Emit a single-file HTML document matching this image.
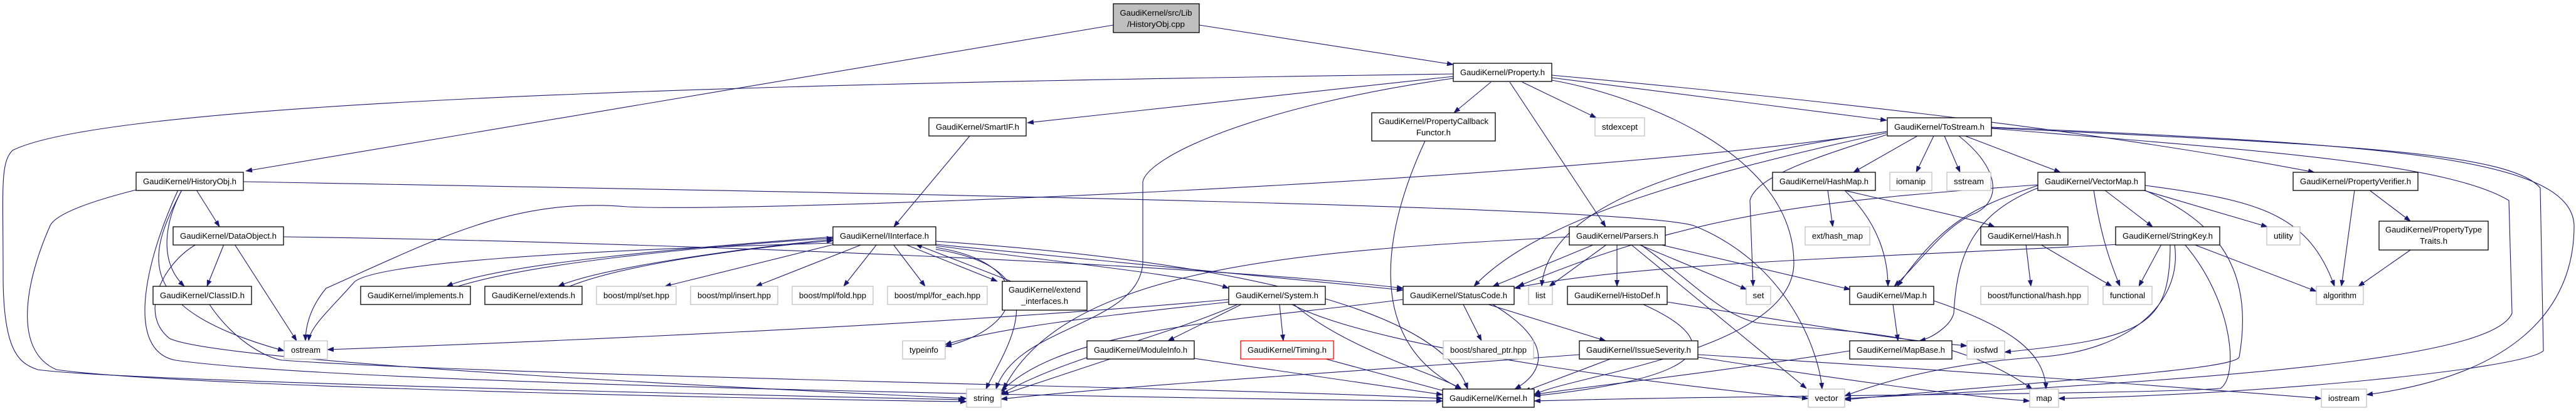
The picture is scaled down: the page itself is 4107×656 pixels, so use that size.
<!DOCTYPE html>
<html><head><meta charset="utf-8"><style>
html,body{margin:0;padding:0;background:#fff;}
svg{display:block;}
text{font-family:"Liberation Sans",sans-serif;font-size:13px;fill:#000;}
.n{fill:#fff;stroke:#000;stroke-width:1.3;}
.x{fill:#fff;stroke:#bfbfbf;stroke-width:1.3;}
.r{fill:#fff;stroke:#ff0000;stroke-width:1.3;}
.e{fill:none;stroke:#191970;stroke-width:1.1;marker-end:url(#a);}
</style></head><body>
<svg width="4107" height="656" viewBox="0 0 4107 656" xmlns="http://www.w3.org/2000/svg">
<defs><marker id="a" markerUnits="userSpaceOnUse" markerWidth="11" markerHeight="8" refX="10" refY="4" orient="auto"><path d="M0,0 L11,4 L0,8 z" fill="#191970"/></marker></defs>
<g>
<path class="e" d="M1775,40 L392,273"/>
<path class="e" d="M1912,40 L2317,103"/>
<path class="e" d="M2317,118 C1500,130 200,150 20,240 C0,260 5,300 5,440 C5,560 30,580 60,590 C200,610 1400,635 1538,638"/>
<path class="e" d="M2317,122 L1638,196"/>
<path class="e" d="M2317,125 C2000,170 1830,250 1822,290 L1822,420 C1815,520 1620,520 1588,621"/>
<path class="e" d="M2377,131 L2318,180"/>
<path class="e" d="M2407,131 L2560,362"/>
<path class="e" d="M2427,131 L2545,188"/>
<path class="e" d="M2474,124 L3008,192"/>
<path class="e" d="M2474,120 C2800,150 3300,200 3690,275"/>
<path class="e" d="M2474,128 C2600,150 2860,240 2860,420 C2860,560 2500,600 2446,630"/>
<path class="e" d="M2272,225 C2200,380 2180,550 2330,621"/>
<path class="e" d="M1546,217 L1425,362"/>
<path class="e" d="M313,303 L350,362"/>
<path class="e" d="M290,303 C260,360 255,420 294,457"/>
<path class="e" d="M290,303 C240,400 200,490 453,560"/>
<path class="e" d="M217,303 C150,320 90,340 80,360 C40,450 20,560 90,590 C300,620 1400,640 1541,641"/>
<path class="e" d="M388,290 C1500,310 2600,330 2700,360 C2850,420 2900,560 2905,621"/>
<path class="e" d="M284,303 C230,420 200,560 280,575 C600,620 2200,640 2300,640"/>
<path class="e" d="M357,390 L330,457"/>
<path class="e" d="M374,390 L473,544"/>
<path class="e" d="M313,390 C260,420 220,500 270,540 C350,580 1300,625 1541,636"/>
<path class="e" d="M452,378 C1000,385 1900,420 2237,460"/>
<path class="e" d="M334,486 C370,540 420,570 450,575 C800,600 2000,620 2300,636"/>
<path class="e" d="M1328,378 C1100,395 800,420 712,457"/>
<path class="e" d="M730,457 C850,420 1100,395 1328,380"/>
<path class="e" d="M1328,382 C1150,400 950,430 890,457"/>
<path class="e" d="M908,457 C1000,420 1200,395 1328,384"/>
<path class="e" d="M1330,390 L1060,457"/>
<path class="e" d="M1375,390 L1205,457"/>
<path class="e" d="M1398,390 L1345,457"/>
<path class="e" d="M1424,390 L1475,457"/>
<path class="e" d="M1443,390 L1590,449"/>
<path class="e" d="M1612,449 L1460,390"/>
<path class="e" d="M3008,210 C2500,290 1200,340 1000,330 C820,315 700,380 520,460 C495,490 487,520 487,544"/>
<path class="e" d="M1328,388 C900,400 600,420 565,450 C530,490 495,520 492,544"/>
<path class="e" d="M1959,478 C1500,520 800,548 522,558"/>
<path class="e" d="M1492,398 C1700,430 1600,560 1572,621"/>
<path class="e" d="M1492,395 C1650,420 1640,520 1507,553"/>
<path class="e" d="M1492,390 L2237,463"/>
<path class="e" d="M1492,392 C1700,420 1900,440 1959,460"/>
<path class="e" d="M1492,385 C2000,420 2300,500 2340,621"/>
<path class="e" d="M1979,486 L1862,544"/>
<path class="e" d="M2040,486 L2046,544"/>
<path class="e" d="M2063,486 C2150,560 2300,600 2330,621"/>
<path class="e" d="M2060,486 C2200,560 2700,620 2883,636"/>
<path class="e" d="M1973,486 C1850,540 1700,570 1594,630"/>
<path class="e" d="M1959,482 C1800,500 1600,520 1507,550"/>
<path class="e" d="M1773,572 L1598,630"/>
<path class="e" d="M1904,572 L2300,630"/>
<path class="e" d="M2110,572 L2310,626"/>
<path class="e" d="M2333,486 L2362,544"/>
<path class="e" d="M2373,486 L2560,544"/>
<path class="e" d="M2380,486 C2470,540 2470,590 2415,621"/>
<path class="e" d="M2237,478 C2000,510 1700,520 1596,625"/>
<path class="e" d="M2570,572 L2430,625"/>
<path class="e" d="M2518,566 C2200,590 1800,615 1596,637"/>
<path class="e" d="M2707,570 C2900,600 3100,630 3236,640"/>
<path class="e" d="M2707,566 C3100,590 3500,620 3701,636"/>
<path class="e" d="M2542,390 L2380,457"/>
<path class="e" d="M2562,390 L2470,457"/>
<path class="e" d="M2578,390 L2578,457"/>
<path class="e" d="M2612,390 L2785,462"/>
<path class="e" d="M2645,390 L2950,462"/>
<path class="e" d="M2600,390 L2880,620"/>
<path class="e" d="M2615,390 C2700,450 2740,500 2800,515 C2900,530 3100,520 3240,621"/>
<path class="e" d="M2502,378 C2100,400 1700,420 1600,621"/>
<path class="e" d="M2620,486 C2740,540 2750,600 2446,632"/>
<path class="e" d="M2658,482 C2900,520 3000,540 3136,552"/>
<path class="e" d="M3057,217 L2955,275"/>
<path class="e" d="M3083,217 L3055,275"/>
<path class="e" d="M3100,217 L3125,275"/>
<path class="e" d="M3133,217 L3285,275"/>
<path class="e" d="M3123,217 C3190,270 3190,320 3150,340 C3100,360 3060,420 3020,457"/>
<path class="e" d="M3008,215 C2900,250 2800,280 2790,320 L2795,457"/>
<path class="e" d="M3008,210 C2800,240 2470,300 2458,457"/>
<path class="e" d="M3008,212 C2700,280 2450,350 2350,457"/>
<path class="e" d="M3175,205 C3600,240 3900,260 4000,320 L4005,500 C3980,560 3700,600 2941,636"/>
<path class="e" d="M3175,204 C3700,230 4000,240 4050,300 L4055,560 C4020,590 3600,630 3282,636"/>
<path class="e" d="M3175,203 C3800,230 4100,250 4104,360 C4104,500 4000,600 3773,630"/>
<path class="e" d="M2914,303 L2922,362"/>
<path class="e" d="M2937,303 C3050,330 3150,350 3180,362"/>
<path class="e" d="M2940,303 C3000,360 3010,420 3010,457"/>
<path class="e" d="M3249,295 C2900,320 2700,340 2420,457"/>
<path class="e" d="M3249,300 C3150,340 3120,400 3115,500 C3110,520 3080,540 3060,544"/>
<path class="e" d="M3249,296 C3150,330 3100,350 3025,457"/>
<path class="e" d="M3355,303 L3432,362"/>
<path class="e" d="M3338,303 C3350,380 3365,420 3380,457"/>
<path class="e" d="M3415,303 L3615,362"/>
<path class="e" d="M3420,296 C3600,320 3680,340 3722,457"/>
<path class="e" d="M3418,303 C3500,340 3600,400 3570,570 C3560,590 3300,605 2941,638"/>
<path class="e" d="M3230,390 L3238,457"/>
<path class="e" d="M3253,390 L3367,457"/>
<path class="e" d="M3446,390 L3410,457"/>
<path class="e" d="M3497,390 L3693,465"/>
<path class="e" d="M3460,390 C3460,520 3420,540 3196,562"/>
<path class="e" d="M3467,390 C3480,480 3400,560 3250,570 C3100,580 3000,610 2941,632"/>
<path class="e" d="M3483,390 C3560,480 3570,600 3540,620 C3400,630 2800,630 2446,640"/>
<path class="e" d="M3380,390 C3000,410 2600,420 2414,460"/>
<path class="e" d="M3018,486 L3026,544"/>
<path class="e" d="M3083,480 C3200,520 3260,560 3262,621"/>
<path class="e" d="M2949,560 C2700,600 2500,620 2446,630"/>
<path class="e" d="M3754,303 L3733,457"/>
<path class="e" d="M3777,303 L3843,353"/>
<path class="e" d="M3843,399 L3760,457"/>
</g>
<g>
<rect x="1775" y="6" width="137" height="46" fill="#bfbfbf" stroke="#000" stroke-width="1.3"/>
<text x="1843" y="25" text-anchor="middle" textLength="115" lengthAdjust="spacingAndGlyphs">GaudiKernel/src/Lib</text>
<text x="1843" y="43" text-anchor="middle" textLength="92" lengthAdjust="spacingAndGlyphs">/HistoryObj.cpp</text>

<rect class="n" x="2317" y="101" width="157" height="29"/><text x="2395.5" y="120" text-anchor="middle" textLength="135" lengthAdjust="spacingAndGlyphs">GaudiKernel/Property.h</text>

<rect class="n" x="1481" y="188" width="155" height="29"/><text x="1558.5" y="207" text-anchor="middle" textLength="133" lengthAdjust="spacingAndGlyphs">GaudiKernel/SmartIF.h</text>
<rect class="n" x="2187" y="180" width="197" height="45"/><text x="2285.5" y="198" text-anchor="middle" textLength="175" lengthAdjust="spacingAndGlyphs">GaudiKernel/PropertyCallback</text><text x="2285.5" y="216" text-anchor="middle" textLength="55" lengthAdjust="spacingAndGlyphs">Functor.h</text>
<rect class="x" x="2543" y="188" width="79" height="29"/><text x="2582.5" y="207" text-anchor="middle" textLength="57" lengthAdjust="spacingAndGlyphs">stdexcept</text>
<rect class="n" x="3009" y="188" width="166" height="29"/><text x="3092" y="207" text-anchor="middle" textLength="144" lengthAdjust="spacingAndGlyphs">GaudiKernel/ToStream.h</text>

<rect class="n" x="217" y="275" width="171" height="29"/><text x="302.5" y="294" text-anchor="middle" textLength="149" lengthAdjust="spacingAndGlyphs">GaudiKernel/HistoryObj.h</text>
<rect class="n" x="2826" y="275" width="164" height="29"/><text x="2908" y="294" text-anchor="middle" textLength="142" lengthAdjust="spacingAndGlyphs">GaudiKernel/HashMap.h</text>
<rect class="x" x="3013" y="275" width="67" height="29"/><text x="3046.5" y="294" text-anchor="middle" textLength="47" lengthAdjust="spacingAndGlyphs">iomanip</text>
<rect class="x" x="3104" y="275" width="70" height="29"/><text x="3139" y="294" text-anchor="middle" textLength="48" lengthAdjust="spacingAndGlyphs">sstream</text>
<rect class="n" x="3249" y="275" width="171" height="29"/><text x="3334.5" y="294" text-anchor="middle" textLength="149" lengthAdjust="spacingAndGlyphs">GaudiKernel/VectorMap.h</text>
<rect class="n" x="3656" y="275" width="199" height="29"/><text x="3755.5" y="294" text-anchor="middle" textLength="177" lengthAdjust="spacingAndGlyphs">GaudiKernel/PropertyVerifier.h</text>

<rect class="n" x="276" y="362" width="176" height="29"/><text x="364" y="381" text-anchor="middle" textLength="154" lengthAdjust="spacingAndGlyphs">GaudiKernel/DataObject.h</text>
<rect class="n" x="1328" y="362" width="164" height="29"/><text x="1410" y="381" text-anchor="middle" textLength="142" lengthAdjust="spacingAndGlyphs">GaudiKernel/IInterface.h</text>
<rect class="n" x="2502" y="362" width="153" height="29"/><text x="2578.5" y="381" text-anchor="middle" textLength="131" lengthAdjust="spacingAndGlyphs">GaudiKernel/Parsers.h</text>
<rect class="x" x="2878" y="362" width="103" height="29"/><text x="2929.5" y="381" text-anchor="middle" textLength="81" lengthAdjust="spacingAndGlyphs">ext/hash_map</text>
<rect class="n" x="3158" y="362" width="139" height="29"/><text x="3227.5" y="381" text-anchor="middle" textLength="117" lengthAdjust="spacingAndGlyphs">GaudiKernel/Hash.h</text>
<rect class="n" x="3373" y="362" width="166" height="29"/><text x="3456" y="381" text-anchor="middle" textLength="144" lengthAdjust="spacingAndGlyphs">GaudiKernel/StringKey.h</text>
<rect class="x" x="3614" y="362" width="53" height="29"/><text x="3640.5" y="381" text-anchor="middle" textLength="31" lengthAdjust="spacingAndGlyphs">utility</text>
<rect class="n" x="3793" y="353" width="174" height="46"/><text x="3880" y="371" text-anchor="middle" textLength="154" lengthAdjust="spacingAndGlyphs">GaudiKernel/PropertyType</text><text x="3880" y="389" text-anchor="middle" textLength="44" lengthAdjust="spacingAndGlyphs">Traits.h</text>

<rect class="n" x="244" y="457" width="157" height="29"/><text x="322.5" y="476" text-anchor="middle" textLength="135" lengthAdjust="spacingAndGlyphs">GaudiKernel/ClassID.h</text>
<rect class="n" x="575" y="457" width="175" height="29"/><text x="662.5" y="476" text-anchor="middle" textLength="153" lengthAdjust="spacingAndGlyphs">GaudiKernel/implements.h</text>
<rect class="n" x="773" y="457" width="155" height="29"/><text x="850.5" y="476" text-anchor="middle" textLength="133" lengthAdjust="spacingAndGlyphs">GaudiKernel/extends.h</text>
<rect class="x" x="951" y="457" width="127" height="29"/><text x="1014.5" y="476" text-anchor="middle" textLength="105" lengthAdjust="spacingAndGlyphs">boost/mpl/set.hpp</text>
<rect class="x" x="1101" y="457" width="139" height="29"/><text x="1170.5" y="476" text-anchor="middle" textLength="117" lengthAdjust="spacingAndGlyphs">boost/mpl/insert.hpp</text>
<rect class="x" x="1263" y="457" width="129" height="29"/><text x="1327.5" y="476" text-anchor="middle" textLength="107" lengthAdjust="spacingAndGlyphs">boost/mpl/fold.hpp</text>
<rect class="x" x="1415" y="457" width="159" height="29"/><text x="1494.5" y="476" text-anchor="middle" textLength="137" lengthAdjust="spacingAndGlyphs">boost/mpl/for_each.hpp</text>
<rect class="n" x="1598" y="449" width="135" height="46"/><text x="1665.5" y="467" text-anchor="middle" textLength="115" lengthAdjust="spacingAndGlyphs">GaudiKernel/extend</text><text x="1665.5" y="485" text-anchor="middle" textLength="75" lengthAdjust="spacingAndGlyphs">_interfaces.h</text>
<rect class="n" x="1959" y="457" width="154" height="29"/><text x="2036" y="476" text-anchor="middle" textLength="132" lengthAdjust="spacingAndGlyphs">GaudiKernel/System.h</text>
<rect class="n" x="2237" y="457" width="177" height="29"/><text x="2325.5" y="476" text-anchor="middle" textLength="155" lengthAdjust="spacingAndGlyphs">GaudiKernel/StatusCode.h</text>
<rect class="x" x="2437" y="457" width="38" height="29"/><text x="2456" y="476" text-anchor="middle" textLength="16" lengthAdjust="spacingAndGlyphs">list</text>
<rect class="n" x="2499" y="457" width="159" height="29"/><text x="2578.5" y="476" text-anchor="middle" textLength="137" lengthAdjust="spacingAndGlyphs">GaudiKernel/HistoDef.h</text>
<rect class="x" x="2784" y="457" width="39" height="29"/><text x="2803.5" y="476" text-anchor="middle" textLength="18" lengthAdjust="spacingAndGlyphs">set</text>
<rect class="n" x="2949" y="457" width="134" height="29"/><text x="3016" y="476" text-anchor="middle" textLength="112" lengthAdjust="spacingAndGlyphs">GaudiKernel/Map.h</text>
<rect class="x" x="3158" y="457" width="171" height="29"/><text x="3243.5" y="476" text-anchor="middle" textLength="149" lengthAdjust="spacingAndGlyphs">boost/functional/hash.hpp</text>
<rect class="x" x="3353" y="457" width="78" height="29"/><text x="3392" y="476" text-anchor="middle" textLength="56" lengthAdjust="spacingAndGlyphs">functional</text>
<rect class="x" x="3693" y="457" width="75" height="29"/><text x="3730.5" y="476" text-anchor="middle" textLength="53" lengthAdjust="spacingAndGlyphs">algorithm</text>

<rect class="x" x="453" y="544" width="69" height="29"/><text x="487.5" y="563" text-anchor="middle" textLength="47" lengthAdjust="spacingAndGlyphs">ostream</text>
<rect class="x" x="1439" y="544" width="68" height="29"/><text x="1473" y="563" text-anchor="middle" textLength="46" lengthAdjust="spacingAndGlyphs">typeinfo</text>
<rect class="n" x="1733" y="544" width="171" height="29"/><text x="1818.5" y="563" text-anchor="middle" textLength="149" lengthAdjust="spacingAndGlyphs">GaudiKernel/ModuleInfo.h</text>
<rect class="r" x="1978" y="544" width="148" height="29"/><text x="2052" y="563" text-anchor="middle" textLength="126" lengthAdjust="spacingAndGlyphs">GaudiKernel/Timing.h</text>
<rect class="x" x="2301" y="544" width="144" height="29"/><text x="2373" y="563" text-anchor="middle" textLength="122" lengthAdjust="spacingAndGlyphs">boost/shared_ptr.hpp</text>
<rect class="n" x="2518" y="544" width="189" height="29"/><text x="2612.5" y="563" text-anchor="middle" textLength="167" lengthAdjust="spacingAndGlyphs">GaudiKernel/IssueSeverity.h</text>
<rect class="n" x="2949" y="544" width="163" height="29"/><text x="3030.5" y="563" text-anchor="middle" textLength="141" lengthAdjust="spacingAndGlyphs">GaudiKernel/MapBase.h</text>
<rect class="x" x="3136" y="544" width="60" height="29"/><text x="3166" y="563" text-anchor="middle" textLength="39" lengthAdjust="spacingAndGlyphs">iosfwd</text>

<rect class="x" x="1541" y="621" width="55" height="29"/><text x="1568.5" y="640" text-anchor="middle" textLength="33" lengthAdjust="spacingAndGlyphs">string</text>
<rect class="n" x="2300" y="621" width="146" height="29"/><text x="2373" y="640" text-anchor="middle" textLength="124" lengthAdjust="spacingAndGlyphs">GaudiKernel/Kernel.h</text>
<rect class="x" x="2883" y="621" width="58" height="29"/><text x="2912" y="640" text-anchor="middle" textLength="37" lengthAdjust="spacingAndGlyphs">vector</text>
<rect class="x" x="3236" y="621" width="46" height="29"/><text x="3259" y="640" text-anchor="middle" textLength="25" lengthAdjust="spacingAndGlyphs">map</text>
<rect class="x" x="3701" y="621" width="72" height="29"/><text x="3737" y="640" text-anchor="middle" textLength="50" lengthAdjust="spacingAndGlyphs">iostream</text>
</g>
</svg>
</body></html>
